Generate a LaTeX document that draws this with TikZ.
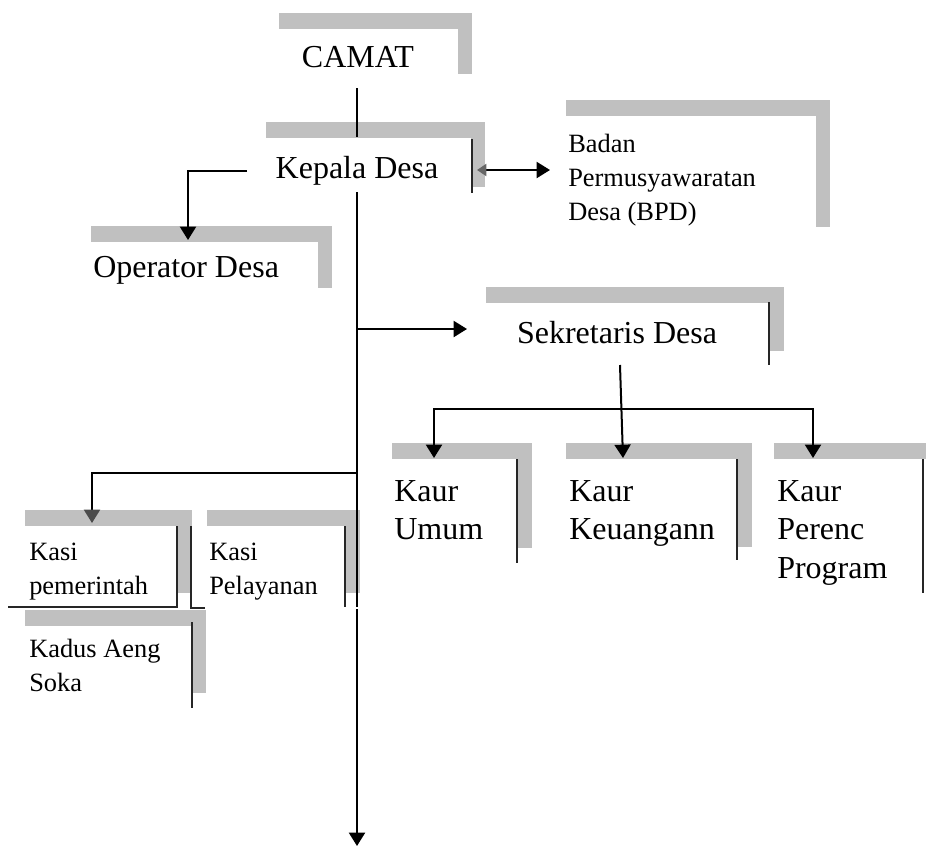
\documentclass[tikz,border=0pt]{standalone}
\usepackage{fontspec}
\setmainfont{Liberation Serif}
\usetikzlibrary{arrows.meta}
\definecolor{shadowgray}{RGB}{192,192,192}
% gray L-shaped shadow: x-left, y-top, x-right, y-bottom of right bar
\newcommand\shadowL[4]{%
  \fill[shadowgray] (#1,#2) rectangle (#3,#2+16);
  \fill[shadowgray] (#3-14,#2) rectangle (#3,#4);}
\begin{document}
\begin{tikzpicture}[x=0.75pt,y=-0.75pt,
  big/.style={font=\fontsize{24}{29}\selectfont, inner sep=0pt, align=left},
  small/.style={font=\fontsize{19.8}{25.5}\selectfont, inner sep=0pt, align=left},
  link/.style={line width=1.5pt, black},
  arr/.style={link, -{Triangle[width=12pt,length=10pt]}},
  rim/.style={line width=1.5pt, black!85}
]
\useasboundingbox (0,0) rectangle (926,847);

% ---------- gray shadows ----------
\shadowL{279}{13}{472}{74}      % CAMAT
\shadowL{266}{122}{485}{187}    % Kepala Desa
\shadowL{566}{100}{830}{227}    % BPD
\shadowL{91}{226}{332}{288}     % Operator Desa
\shadowL{486}{287}{784}{351}    % Sekretaris Desa
\shadowL{392}{443}{532}{548}    % Kaur Umum
\shadowL{566}{443}{752}{547}    % Kaur Keuangann
\fill[shadowgray] (774,443) rectangle (926,459); % Kaur Perenc
\shadowL{25}{510}{192}{593}     % Kasi pemerintah
\shadowL{207}{510}{360}{593}    % Kasi Pelayanan
\shadowL{25}{610}{206}{693}     % Kadus Aeng Soka

% ---------- black rims ----------
\draw[rim] (472,139) -- (472,193);
\draw[rim] (769,302) -- (769,365);
\draw[rim] (517,459) -- (517,563);
\draw[rim] (737,459) -- (737,560);
\draw[rim] (923,459) -- (923,593);
\draw[rim] (177,526) -- (177,607) -- (8,607);
\draw[rim] (205,608) -- (191,608) -- (191,526);
\draw[rim] (345,526) -- (345,607);
\draw[rim] (192,622) -- (192,708);

% ---------- texts ----------
\node[big, anchor=center] (camat) at (358,57) {CAMAT};
\node[big, anchor=center] (kepala) at (357,171) {Kepala Desa};
\node[small, anchor=north west] (bpd) at (568,134) {Badan\\Permusyawaratan\\Desa (BPD)};
\node[big, anchor=west] (operator) at (93,270) {Operator Desa};
\node[big, anchor=center] (sekretaris) at (617,333) {Sekretaris Desa};
\node[big, anchor=north west] (umum) at (394,480) {Kaur\\Umum};
\node[big, anchor=north west] (keuangan) at (569,480) {Kaur\\Keuangann};
\node[big, anchor=north west] (perenc) at (777,480) {Kaur\\Perenc\\Program};
\node[small, anchor=north west] (pemerintah) at (29,543) {Kasi\\pemerintah};
\node[small, anchor=north west] (pelayanan) at (209,543) {Kasi\\Pelayanan};
\node[small, anchor=north west] (kadus) at (29,639) {Kadus Aeng\\Soka};

% ---------- connector points ----------
\coordinate (camatbot) at (357,88);
\coordinate (kepalatop) at (357,137);
\coordinate (kepalabot) at (357,192);
\coordinate (opstart) at (247,171);
\coordinate (optop) at (188,240);
\coordinate (bpdfrom) at (477,170);
\coordinate (bpdto) at (550,170);
\coordinate (sekfork) at (357,329);
\coordinate (sekleft) at (467,329);
\coordinate (kasifork) at (357,473);
\coordinate (pemtop) at (92,523);
\coordinate (mainend) at (357,607);
\coordinate (lowstart) at (357,609);
\coordinate (lowend) at (357,846);
\coordinate (sekbot) at (620,365);
\coordinate (keutop) at (623,458);
\coordinate (umumtop) at (434,458);
\coordinate (perenctop) at (813,458);
\coordinate (brL) at (434,409);
\coordinate (brR) at (813,409);

% ---------- connectors ----------
\draw[link] (camatbot) -- (kepalatop);
\draw[arr] (opstart) -| (optop);
\draw[link, {Triangle[width=9pt,length=7pt,color=black!60]}-{Triangle[width=12pt,length=10pt]}] (bpdfrom) -- (bpdto);
\draw[link] (kepalabot) -- (mainend);
\draw[arr] (sekfork) -- (sekleft);
\draw[link, -{Triangle[width=12pt,length=10pt,color=black!70]}] (kasifork) -| (pemtop);
\draw[arr] (lowstart) -- (lowend);
\draw[arr] (sekbot) -- (keutop);
\draw[link, {Triangle[width=12pt,length=10pt]}-{Triangle[width=12pt,length=10pt]}] (umumtop) -- (brL) -- (brR) -- (perenctop);
\end{tikzpicture}
\end{document}
